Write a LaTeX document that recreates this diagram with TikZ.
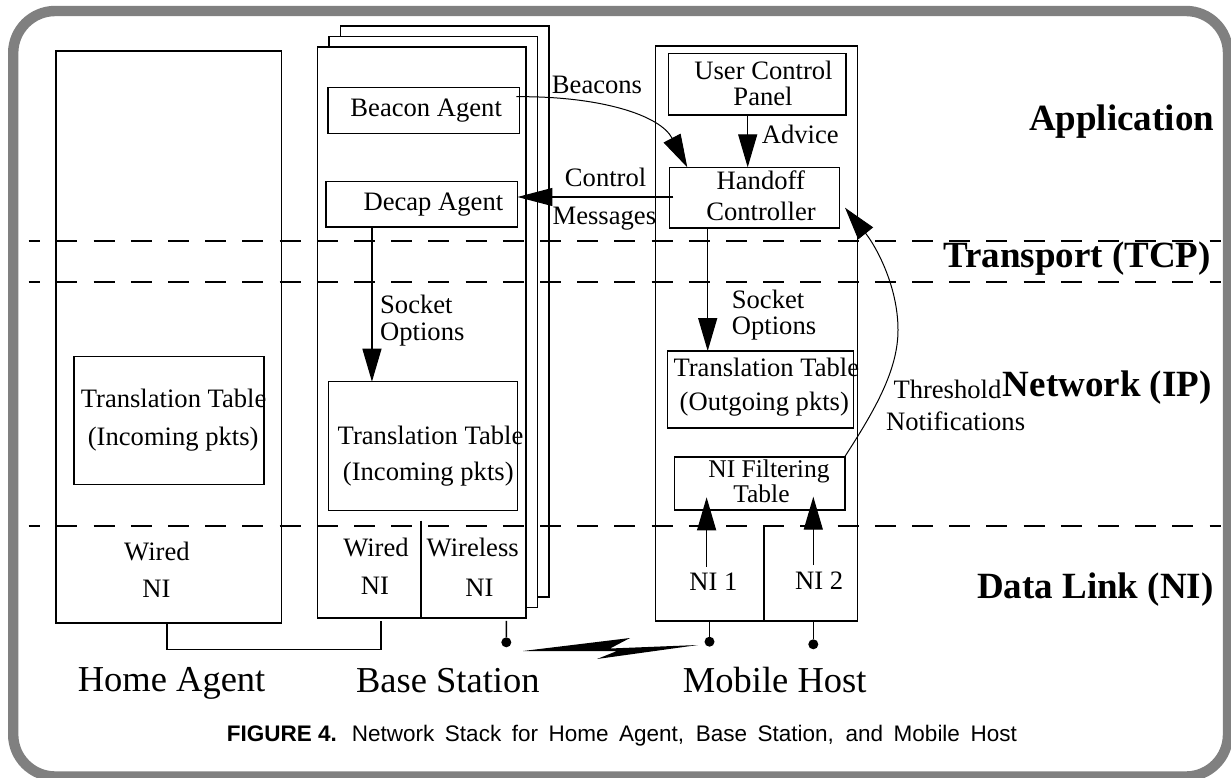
\documentclass[tikz,border=0pt]{standalone}
\usepackage{fontspec}
\setmainfont{Liberation Serif}
\newfontfamily\capfont{Liberation Sans}
\usetikzlibrary{arrows.meta}

\definecolor{framegray}{RGB}{128,128,128}

\tikzset{
  box/.style={draw, line width=1.5pt, fill=white, inner sep=0pt, outer sep=0pt},
  lbl/.style={font=\fontsize{26.6}{30}\selectfont, inner sep=0pt, anchor=base},
  lblw/.style={lbl, anchor=base west},
  big/.style={font=\fontsize{36.5}{40}\selectfont, inner sep=0pt, anchor=base},
  layer/.style={font=\bfseries\fontsize{37}{40}\selectfont, inner sep=0pt, anchor=base east},
  arr/.style={line width=1.3pt, -{Triangle[length=33pt,width=19pt]}},
  curvearr/.style={line width=1pt, -{Triangle[length=33pt,width=19pt]}},
  layerline/.style={line width=1.6pt, dash pattern=on 21pt off 16.2pt, dash phase=9.5pt},
  plain/.style={line width=1.5pt},
  antdot/.style={circle, fill=black, inner sep=0pt, minimum size=10pt},
}

\begin{document}
\begin{tikzpicture}[x=1pt, y=-1pt]
\useasboundingbox (0,0) rectangle (1231,778);

% outer frame
\draw[framegray, line width=10.4pt, rounded corners=42pt] (13.2,11) rectangle (1228,776.5);

% ---------------- Home Agent ----------------
\node[box, minimum width=225.3pt, minimum height=571.7pt] (ha) at (168.7,336.9) {};
\node[box, minimum width=190.2pt, minimum height=127.6pt] (hatt) at (169,420.5) {};
\node[lbl] (hatt1) at (173.6,407.3) {Translation Table};
\node[lbl] (hatt2) at (173.2,445.2) {(Incoming pkts)};
\node[lbl] (hawired) at (156.9,560) {Wired};
\node[lbl] (hani) at (156.5,597.3) {NI};

% ---------------- Base Station (stacked pages) ----------------
\node[box, minimum width=208.5pt, minimum height=571pt] (bs3) at (444.9,311.3) {};
\node[box, minimum width=208.5pt, minimum height=571pt] (bs2) at (433.4,321.8) {};
\node[box, minimum width=208.5pt, minimum height=571pt] (bs1) at (421.9,332.3) {};

\node[box, minimum width=191.3pt, minimum height=46pt] (bea) at (423.7,110.7) {};
\node[lbl] (beat) at (426.2,116.7) {Beacon Agent};
\node[box, minimum width=191.7pt, minimum height=45.3pt] (dec) at (421.6,204.4) {};
\node[lbl] (dect) at (433.4,210.7) {Decap Agent};

\node[box, minimum width=189pt, minimum height=129pt] (bstt) at (422.9,446.2) {};
\node[lbl] (bstt1) at (430.5,444) {Translation Table};
\node[lbl] (bstt2) at (428.3,480) {(Incoming pkts)};

\node[lblw] (bssock1) at (380,313.5) {Socket};
\node[lblw] (bssock2) at (380,340) {Options};

\draw[plain] (421,520.7) -- (421,520.7 |- bs1.south);
\node[lbl] (bswired) at (376,556) {Wired};
\node[lbl] (bswni) at (375,594) {NI};
\node[lbl] (bswl) at (472.7,556) {Wireless};
\node[lbl] (bswlni) at (479.5,596.7) {NI};

% ---------------- Mobile Host ----------------
\node[box, minimum width=202pt, minimum height=574.7pt] (mh) at (756.6,333.4) {};
\node[box, minimum width=177.7pt, minimum height=61.7pt] (ucp) at (757.2,84.2) {};
\node[lbl] (ucp1) at (763.5,79.3) {User Control};
\node[lbl] (ucp2) at (763,106) {Panel};
\node[box, minimum width=170pt, minimum height=60.7pt] (hc) at (754.3,197.7) {};
\node[lbl] (hc1) at (760.8,190) {Handoff};
\node[lbl] (hc2) at (761,220.7) {Controller};
\node[box, minimum width=185.6pt, minimum height=76.7pt] (mhtt) at (760.5,389.4) {};
\node[lbl] (mhtt1) at (766.3,376.7) {Translation Table};
\node[lbl] (mhtt2) at (764.3,410) {(Outgoing pkts)};
\node[box, minimum width=170.3pt, minimum height=53.3pt] (nif) at (759.6,483.4) {};
\node[lbl, font=\fontsize{25.5}{28}\selectfont] (nif1) at (769,477.3) {NI Filtering};
\node[lbl, font=\fontsize{25.5}{28}\selectfont] (nif2) at (761.4,502) {Table};

\node[lblw] (adv) at (761.7,143.3) {Advice};
\node[lblw] (mhsock1) at (731.7,308.3) {Socket};
\node[lblw] (mhsock2) at (731.7,334.5) {Options};

\draw[plain] (764.2,525.7) -- (764.2,525.7 |- mh.south);
\node[lbl] (ni1t) at (713.3,590) {NI 1};
\node[lbl] (ni2t) at (819.2,589) {NI 2};

% ---------------- layer separators ----------------
\draw[layerline] (28.7,240.7) -- (1221,240.7);
\draw[layerline] (28.7,282) -- (1221,282);
\draw[layerline] (28.7,526) -- (1221,526);

% ---------------- layer names ----------------
\node[layer] (lapp) at (1214.3,130.7) {Application};
\node[layer] (ltcp) at (1211,267.5) {Transport (TCP)};
\node[layer] (lip) at (1211.7,396.5) {Network (IP)};
\node[layer] (ldl) at (1213.7,598.3) {Data Link (NI)};

% ---------------- messages between agents ----------------
\node[lbl] (beacons) at (597,94) {Beacons};
\draw[curvearr] ([xshift=-3pt,yshift=14pt]bea.east) .. controls (600,96) and (660,115) .. ([xshift=18pt]hc.north west);

\node[lbl] (ctrl1) at (605.6,187) {Control};
\node[lbl] (ctrl2) at (604.4,224) {Messages};
\draw[line width=1.3pt, -{Triangle[length=35pt,width=18pt]}] ([xshift=4pt,yshift=0.7pt]hc.west) -- ([yshift=0.7pt]dec.east |- hc.west);

\draw[arr] ([xshift=46.2pt]dec.south west) -- ([xshift=46.2pt]dec.south west |- bstt.north);
\draw[arr] ([xshift=-9.5pt]ucp.south) -- ([xshift=-9.5pt]ucp.south |- hc.north);
\draw[arr] ([xshift=38.4pt]hc.south west) -- ([xshift=38.4pt]hc.south west |- mhtt.north);

\coordinate (n1a) at (706.6,566.7);
\coordinate (n1b) at (706.6,497.3);
\coordinate (n2a) at (813.3,565);
\coordinate (n2b) at (813.3,496.7);
\draw[arr] (n1a) -- (n1b);
\draw[arr] (n2a) -- (n2b);

\node[lblw] (thr1) at (893.3,398.3) {Threshold};
\node[lblw] (thr2) at (886,430) {Notifications};
\draw[curvearr] (nif.north east) .. controls (875,410) and (898,370) .. (898,330)
  .. controls (898,285) and (875,245) .. ([shift={(5.7,10)}]hc.east);

% ---------------- links ----------------
\draw[plain] ([xshift=-1.5pt]ha.south) -- ++(0,26.6) -| ([xshift=63.2pt,yshift=-3pt]bs1.south west);

\node[antdot] (bsant) at (506.3,642.3) {};
\draw[plain] ([xshift=188.7pt,yshift=-3pt]bs1.south west) -- (bsant);
\node[antdot] (mhant1) at (709.5,641.7) {};
\node[antdot] (mhant2) at (813.3,644.3) {};
\draw[plain] (mhant1 |- mh.south) -- (mhant1);
\draw[plain] (mhant2 |- mh.south) -- (mhant2);

% wireless link
\fill (523,651) -- (630,638) -- (610,648.5) -- (698,645) -- (597,659) -- (617,651) -- cycle;

% ---------------- titles ----------------
\node[big] (haname) at (171.6,691.7) {Home Agent};
\node[big] (bsname) at (447.8,692.7) {Base Station};
\node[big] (mhname) at (774.7,692.7) {Mobile Host};

\node[font=\capfont\fontsize{22.5}{26}\selectfont, inner sep=0pt, anchor=base west] (caption) at (226.7,741.7)
  {\makebox[790pt][s]{\mbox{\textbf{FIGURE 4.}}\hspace{15pt}Network Stack for Home Agent, Base Station, and Mobile Host}};
\end{tikzpicture}
\end{document}
